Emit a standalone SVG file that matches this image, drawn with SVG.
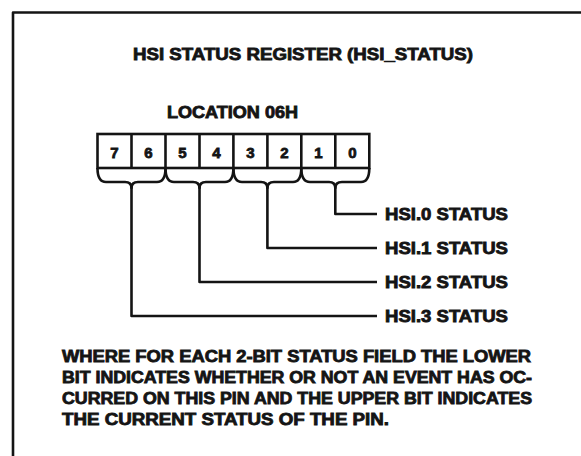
<svg xmlns="http://www.w3.org/2000/svg" width="581" height="456" viewBox="0 0 581 456">
<style>
.t{font-family:"Liberation Sans",Arial,sans-serif;font-weight:bold;fill:#141414;stroke:#141414;stroke-width:0.8}
.ln{fill:none;stroke:#141414;stroke-width:2.6;stroke-linejoin:round}
.cell{fill:#fff;stroke:#141414;stroke-width:2.6}
</style>
<rect width="581" height="456" fill="#fff"/>
<g id="frame"><path class="ln" d="M13,456 V12.5 H581" stroke-width="3"/></g>
<g id="title"><text class="t" x="133" y="60" font-size="16" textLength="340" lengthAdjust="spacingAndGlyphs">HSI STATUS REGISTER (HSI_STATUS)</text></g>
<g id="location"><text class="t" x="167" y="118" font-size="16" textLength="131" lengthAdjust="spacingAndGlyphs">LOCATION 06H</text></g>
<g id="register">
<rect class="cell" x="97.5" y="134" width="271.8" height="34"/>
<path class="ln" d="M131.5,134V168M165.5,134V168M199.5,134V168M233.4,134V168M267.4,134V168M301.3,134V168M335.3,134V168"/>
<g class="t" font-size="15" text-anchor="middle">
<text x="114.5" y="158">7</text><text x="148.5" y="158">6</text><text x="182.5" y="158">5</text><text x="216.5" y="158">4</text>
<text x="250.4" y="158">3</text><text x="284.4" y="158">2</text><text x="318.3" y="158">1</text><text x="352.3" y="158">0</text>
</g>
</g>
<g id="braces">
<path class="ln" d="M97.5,168 C97.5,177 100,182 106,182 H125 Q131.5,182 131.5,188 Q131.5,182 138,182 H157 C163,182 165.5,177 165.5,168"/>
<path class="ln" d="M165.5,168 C165.5,177 168,182 174,182 H193 Q199.5,182 199.5,188 Q199.5,182 206,182 H225 C231,182 233.4,177 233.4,168"/>
<path class="ln" d="M233.4,168 C233.4,177 236,182 242,182 H261 Q267.4,182 267.4,188 Q267.4,182 274,182 H293 C299,182 301.3,177 301.3,168"/>
<path class="ln" d="M301.3,168 C301.3,177 304,182 310,182 H329 Q335.3,182 335.3,188 Q335.3,182 342,182 H361 C367,182 369.3,177 369.3,168"/>
</g>
<g id="connectors">
<path class="ln" d="M335.3,186 V214 H377"/>
<path class="ln" d="M267.4,186 V248 H377"/>
<path class="ln" d="M199.5,186 V282 H377"/>
<path class="ln" d="M131.5,186 V316 H377"/>
</g>
<g id="hsi0"><text class="t" x="385" y="220" font-size="16" textLength="123" lengthAdjust="spacingAndGlyphs">HSI.0 STATUS</text></g>
<g id="hsi1"><text class="t" x="385" y="254" font-size="16" textLength="123" lengthAdjust="spacingAndGlyphs">HSI.1 STATUS</text></g>
<g id="hsi2"><text class="t" x="385" y="288" font-size="16" textLength="123" lengthAdjust="spacingAndGlyphs">HSI.2 STATUS</text></g>
<g id="hsi3"><text class="t" x="385" y="322" font-size="16" textLength="123" lengthAdjust="spacingAndGlyphs">HSI.3 STATUS</text></g>
<g id="note" class="t" font-size="16">
<text x="62" y="362" textLength="469" lengthAdjust="spacingAndGlyphs">WHERE FOR EACH 2-BIT STATUS FIELD THE LOWER</text>
<text x="62" y="383" textLength="470" lengthAdjust="spacingAndGlyphs">BIT INDICATES WHETHER OR NOT AN EVENT HAS OC-</text>
<text x="62" y="404" textLength="470" lengthAdjust="spacingAndGlyphs">CURRED ON THIS PIN AND THE UPPER BIT INDICATES</text>
<text x="62" y="425" textLength="327" lengthAdjust="spacingAndGlyphs">THE CURRENT STATUS OF THE PIN.</text>
</g>
</svg>
